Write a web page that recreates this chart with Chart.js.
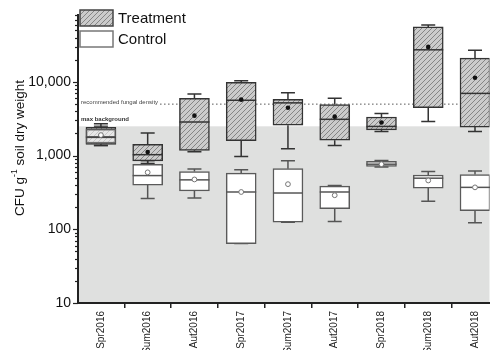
<!DOCTYPE html>
<html>
<head>
<meta charset="utf-8">
<script src="https://cdn.jsdelivr.net/npm/chart.js@4"></script>
<style>
  html, body { margin: 0; padding: 0; background: #ffffff; }
  canvas { display: block; }
</style>
</head>
<body>
<canvas id="c" width="490" height="350"></canvas>
<script>
// ---------- DATA ----------
const categories = ['Spr2016','Sum2016','Aut2016','Spr2017','Sum2017','Aut2017','Spr2018','Sum2018','Aut2018'];

const treatMin    = [1370,  780, 1130,   970, 1240, 1370, 2130,  2900,  2130];
const treatQ1     = [1420,  850, 1180,  1600, 2590, 1620, 2240,  4460,  2440];
const treatMedian = [1770, 1030, 2860,  5640, 5200, 3110, 2490, 27300,  6990];
const treatQ3     = [2420, 1420, 5990,  9910, 5810, 4930, 3340, 55800, 21100];
const treatMax    = [2700, 2030, 6860, 10400, 7130, 5990, 3740, 59300, 27000];
const treatMean   = [1890, 1120, 3490,  5750, 4460, 3380, 2810, 29900, 11400];

const ctrlMin    = [1370, 261, 267,  64, 125, 128, 700, 241, 123];
const ctrlQ1     = [1460, 398, 331,  64, 125, 190, 713, 363, 179];
const ctrlMedian = [1800, 536, 469, 321, 311, 321, 765, 494, 371];
const ctrlQ3     = [2300, 759, 607, 580, 665, 386, 839, 546, 553];
const ctrlMax    = [2500, 850, 656, 644, 849, 392, 860, 607, 618];
const ctrlMean   = [1900, 593, 475, 321, 410, 290, 765, 460, 371];

const yTickLabels = [10, 100, 1000, 10000];
const recommendedDensity = 5000;
const maxBackground = 2500;
const yMin = 10, yMax = 80000;
const xMin = -0.49, xMax = 8.31;

// ---------- STYLE HELPERS ----------
const FONT = '"Liberation Sans", Arial, sans-serif';

function makeHatch() {
  const s = 5;
  const cv = document.createElement('canvas');
  cv.width = s; cv.height = s;
  const g = cv.getContext('2d');
  g.fillStyle = '#cbcbcb';
  g.fillRect(0, 0, s, s);
  g.strokeStyle = '#858585';
  g.lineWidth = 1;
  g.beginPath();
  g.moveTo(-1, s + 1); g.lineTo(s + 1, -1);
  g.moveTo(-1, 1); g.lineTo(1, -1);
  g.moveTo(s - 1, s + 1); g.lineTo(s + 1, s - 1);
  g.stroke();
  return g.createPattern(cv, 'repeat');
}
const hatch = makeHatch();

const extras = {
  id: 'boxExtras',
  beforeDraw(chart) {
    const { ctx, chartArea: ca, scales: { y } } = chart;
    const yb = y.getPixelForValue(maxBackground);
    ctx.save();
    ctx.fillStyle = '#dfe0df';
    ctx.fillRect(ca.left, yb, ca.right - ca.left, ca.bottom - yb);
    ctx.restore();
  },
  beforeDatasetsDraw(chart) {
    const { ctx, chartArea: ca, scales: { x, y } } = chart;
    ctx.save();
    // recommended density line + label
    const yr = y.getPixelForValue(recommendedDensity);
    ctx.font = '6px ' + FONT;
    ctx.fillStyle = '#444';
    ctx.textBaseline = 'middle';
    ctx.textAlign = 'left';
    const txt = 'recommended fungal density';
    ctx.fillText(txt, ca.left + 3, yr - 1.5);
    const tw = ctx.measureText(txt).width;
    ctx.strokeStyle = '#555';
    ctx.lineWidth = 1;
    ctx.setLineDash([1.5, 2.5]);
    ctx.beginPath();
    ctx.moveTo(ca.left + 5 + tw, yr);
    ctx.lineTo(ca.right, yr);
    ctx.stroke();
    ctx.setLineDash([]);
    // max background label
    const yb = y.getPixelForValue(maxBackground);
    ctx.font = 'bold 6px ' + FONT;
    ctx.fillStyle = '#333';
    ctx.fillText('max background', ca.left + 3, yb - 7);

    // whiskers
    const drawW = (mins, q1, q3, maxs, color) => {
      ctx.strokeStyle = color;
      ctx.lineWidth = 1.5;
      categories.forEach((c, i) => {
        const cx = x.getPixelForValue(i);
        const pMin = y.getPixelForValue(mins[i]);
        const pQ1 = y.getPixelForValue(q1[i]);
        const pQ3 = y.getPixelForValue(q3[i]);
        const pMax = y.getPixelForValue(maxs[i]);
        ctx.beginPath();
        ctx.moveTo(cx, pMax); ctx.lineTo(cx, pQ3);
        ctx.moveTo(cx, pQ1); ctx.lineTo(cx, pMin);
        ctx.moveTo(cx - 7, pMax); ctx.lineTo(cx + 7, pMax);
        ctx.moveTo(cx - 7, pMin); ctx.lineTo(cx + 7, pMin);
        ctx.stroke();
      });
    };
    drawW(ctrlMin, ctrlQ1, ctrlQ3, ctrlMax, '#555');
    drawW(treatMin, treatQ1, treatQ3, treatMax, '#333');
    ctx.restore();
  },
  afterDatasetsDraw(chart) {
    const { ctx, scales: { x, y } } = chart;
    ctx.save();
    const drawMed = (med, color) => {
      ctx.strokeStyle = color;
      ctx.lineWidth = 1.5;
      categories.forEach((c, i) => {
        const cx = x.getPixelForValue(i);
        const py = y.getPixelForValue(med[i]);
        ctx.beginPath();
        ctx.moveTo(cx - 15, py); ctx.lineTo(cx + 15, py);
        ctx.stroke();
      });
    };
    drawMed(treatMedian, '#333');
    drawMed(ctrlMedian, '#555');
    categories.forEach((c, i) => {
      const cx = x.getPixelForValue(i);
      ctx.fillStyle = '#111';
      ctx.beginPath();
      ctx.arc(cx, y.getPixelForValue(treatMean[i]), 2.3, 0, Math.PI * 2);
      ctx.fill();
    });
    categories.forEach((c, i) => {
      const cx = x.getPixelForValue(i);
      ctx.fillStyle = '#fff';
      ctx.strokeStyle = '#777';
      ctx.lineWidth = 1;
      ctx.beginPath();
      ctx.arc(cx, y.getPixelForValue(ctrlMean[i]), 2.4, 0, Math.PI * 2);
      ctx.fill();
      ctx.stroke();
    });
    ctx.restore();
  },
  afterDraw(chart) {
    const { ctx, chartArea: ca, scales: { y } } = chart;
    ctx.save();
    // y ticks (major and minor)
    ctx.strokeStyle = '#222';
    ctx.lineWidth = 1.2;
    for (let e = 1; e <= 4; e++) {
      for (let m = 1; m <= 9; m++) {
        const v = m * Math.pow(10, e);
        if (v > yMax) continue;
        const py = Math.round(y.getPixelForValue(v)) + 0.5;
        const len = m === 1 ? 5 : 3;
        ctx.beginPath();
        ctx.moveTo(ca.left - len, py);
        ctx.lineTo(ca.left, py);
        ctx.stroke();
      }
    }
    // y title with superscript
    ctx.translate(20, 148);
    ctx.rotate(-Math.PI / 2);
    ctx.fillStyle = '#111';
    ctx.textBaseline = 'middle';
    ctx.textAlign = 'left';
    const fMain = '13.5px ' + FONT, fSup = '8.5px ' + FONT;
    const p1 = 'CFU g', p2 = '-1', p3 = ' soil dry weight';
    ctx.font = fMain; const w1 = ctx.measureText(p1).width; const w3 = ctx.measureText(p3).width;
    ctx.font = fSup; const w2 = ctx.measureText(p2).width;
    let sx = -(w1 + w2 + w3) / 2;
    ctx.font = fMain; ctx.fillText(p1, sx, 0); sx += w1;
    ctx.font = fSup; ctx.fillText(p2, sx, -5); sx += w2;
    ctx.font = fMain; ctx.fillText(p3, sx, 0);
    ctx.restore();

    // legend
    ctx.save();
    ctx.fillStyle = hatch;
    ctx.fillRect(80, 10, 33, 16);
    ctx.strokeStyle = '#444'; ctx.lineWidth = 1.5;
    ctx.strokeRect(80, 10, 33, 16);
    ctx.fillStyle = '#fff';
    ctx.fillRect(80, 31, 33, 16);
    ctx.strokeStyle = '#777';
    ctx.strokeRect(80, 31, 33, 16);
    ctx.fillStyle = '#111';
    ctx.font = '15px ' + FONT;
    ctx.textBaseline = 'middle';
    ctx.fillText(chart.data.datasets[0].label, 118, 18.5);
    ctx.fillText(chart.data.datasets[1].label, 118, 39.5);
    ctx.restore();
  }
};

new Chart(document.getElementById('c'), {
  type: 'bar',
  data: {
    datasets: [
      {
        label: 'Treatment',
        data: categories.map((c, i) => ({ x: i, y: [treatQ1[i], treatQ3[i]] })),
        backgroundColor: hatch,
        borderColor: '#333',
        borderWidth: 1.5,
        borderSkipped: false,
        barThickness: 30,
        grouped: false,
        order: 1
      },
      {
        label: 'Control',
        data: categories.map((c, i) => ({ x: i, y: [ctrlQ1[i], ctrlQ3[i]] })),
        backgroundColor: categories.map((c, i) => i === 0 ? 'rgba(255,255,255,0.55)' : '#ffffff'),
        borderColor: '#5a5a5a',
        borderWidth: 1.5,
        borderSkipped: false,
        barThickness: 30,
        grouped: false,
        order: 0
      }
    ]
  },
  options: {
    responsive: false,
    animation: false,
    devicePixelRatio: 1,
    layout: { padding: { left: 0, right: 0, top: 10, bottom: 0 } },
    plugins: { legend: { display: false }, tooltip: { enabled: false } },
    scales: {
      x: {
        type: 'linear',
        bounds: 'data',
        offset: false,
        min: xMin,
        max: xMax,
        afterBuildTicks: (s) => {
          s.ticks = categories.map((c, i) => ({ value: i }));
          s.min = xMin;
          s.max = xMax;
        },
        afterFit: (s) => { s.height = 47; },
        grid: { drawOnChartArea: false, drawTicks: true, tickLength: 5, color: '#222', lineWidth: 1.5 },
        border: { display: true, color: '#222', width: 2 },
        ticks: {
          autoSkip: false,
          minRotation: 90,
          maxRotation: 90,
          padding: 3,
          color: '#222',
          font: { family: FONT, size: 10 },
          callback: (v) => categories[v] !== undefined ? categories[v] : ''
        }
      },
      y: {
        type: 'logarithmic',
        min: yMin,
        max: yMax,
        afterFit: (s) => { s.width = 78; },
        grid: { display: false, drawTicks: false },
        border: { display: true, color: '#222', width: 2 },
        ticks: {
          autoSkip: false,
          padding: 7,
          color: '#111',
          font: { family: FONT, size: 14 },
          callback: (v) => yTickLabels.includes(v) ? v.toLocaleString('en-US') : ''
        }
      }
    }
  },
  plugins: [extras]
});
</script>
</body>
</html>
